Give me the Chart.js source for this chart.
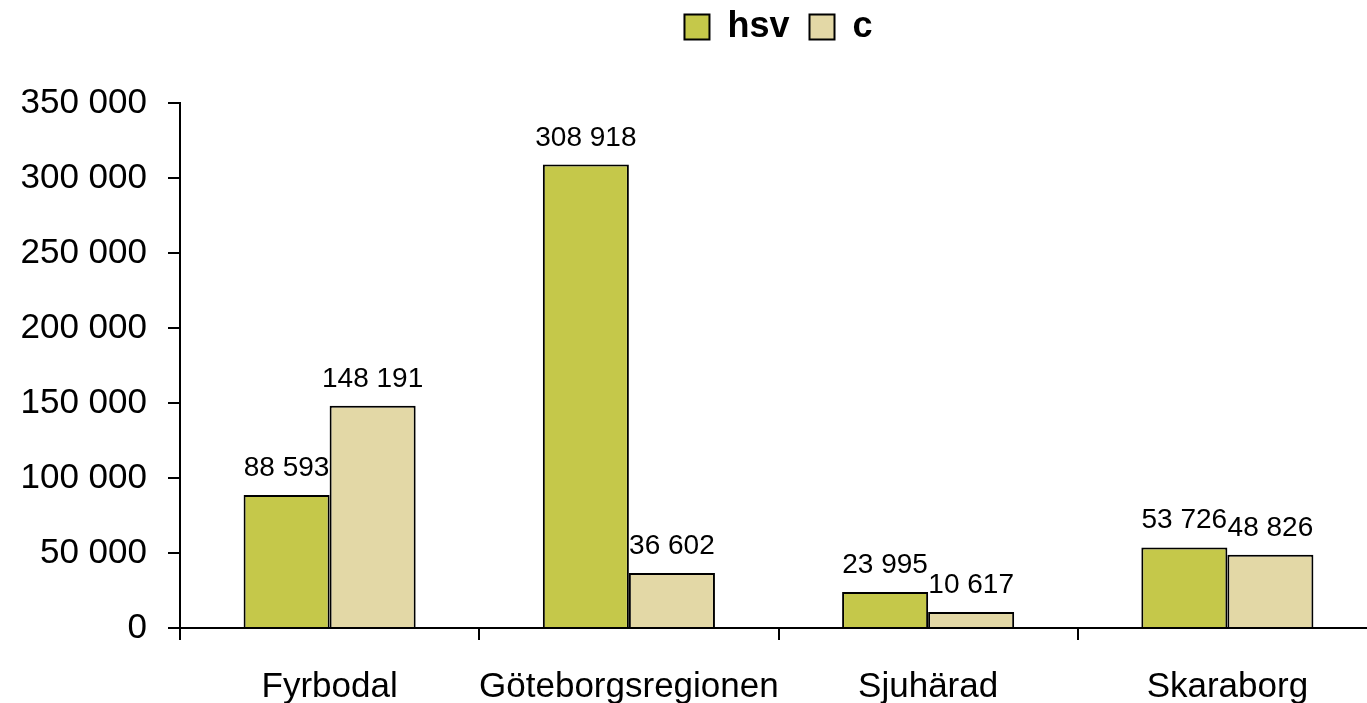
<!DOCTYPE html>
<html>
<head>
<meta charset="utf-8">
<script src="https://cdn.jsdelivr.net/npm/chart.js@4/dist/chart.umd.min.js"></script>
<style>
html,body{margin:0;padding:0;background:#fff;overflow:hidden;}
#wrap{width:1377px;height:703px;position:relative;}
</style>
</head>
<body>
<div id="wrap"><canvas id="c"></canvas></div>
<script>
const categories = ["Fyrbodal", "Göteborgsregionen", "Sjuhärad", "Skaraborg"];
const hsvValues = [88593, 308918, 23995, 53726];
const cValues = [148191, 36602, 10617, 48826];
const seriesNames = ["hsv", "c"];

const FONT = '"Liberation Sans", Arial, sans-serif';
function fmt(v){ return String(v).replace(/\B(?=(\d{3})+(?!\d))/g, ' '); }

const dataLabels = {
  id: 'dataLabels',
  afterDatasetsDraw(chart){
    const ctx = chart.ctx;
    ctx.save();
    ctx.font = '28px ' + FONT;
    ctx.fillStyle = '#000';
    ctx.textAlign = 'center';
    ctx.textBaseline = 'alphabetic';
    chart.data.datasets.forEach((ds, i) => {
      const meta = chart.getDatasetMeta(i);
      meta.data.forEach((el, j) => {
        ctx.fillText(fmt(ds.data[j]), el.x, el.y - 19);
      });
    });
    ctx.restore();
  }
};

const legendFix = {
  id: 'legendFix',
  beforeInit(chart){
    const lg = chart.legend;
    if (!lg) return;
    const orig = lg.fit;
    lg.fit = function(){ orig.call(this); this.height = 103; };
  },
  afterLayout(chart){
    const lg = chart.legend;
    if (lg){ lg.top -= 11; lg.bottom -= 11; }
  }
};

new Chart(document.getElementById('c'), {
  type: 'bar',
  data: {
    labels: categories,
    datasets: [
      {label: seriesNames[0], data: hsvValues, backgroundColor: '#C5C84A', borderColor: '#000', borderWidth: 2, borderSkipped: 'bottom'},
      {label: seriesNames[1], data: cValues, backgroundColor: '#E3D8A6', borderColor: '#000', borderWidth: 2, borderSkipped: 'bottom'}
    ]
  },
  options: {
    responsive: true,
    maintainAspectRatio: false,
    animation: false,
    layout: {padding: {top: 0, left: 0, right: 0, bottom: 0}},
    datasets: {bar: {categoryPercentage: 0.575, barPercentage: 1}},
    plugins: {
      legend: {
        position: 'top',
        fullSize: false,
        labels: {
          color: '#000',
          font: {family: FONT, size: 36, weight: 'bold'},
          boxWidth: 25, boxHeight: 25, padding: 20
        }
      },
      tooltip: {enabled: false}
    },
    scales: {
      x: {
        offset: true,
        afterFit(scale){ scale.height = 75; },
        grid: {offset: true, drawOnChartArea: false, drawTicks: true, tickLength: 12, color: '#000', lineWidth: 2},
        border: {color: '#000', width: 2},
        ticks: {autoSkip: false, color: '#000', font: {family: FONT, size: 35, lineHeight: 1}, padding: 30, maxRotation: 0}
      },
      y: {
        min: 0, max: 350000,
        afterFit(scale){ scale.width = 180; },
        grid: {drawOnChartArea: false, drawTicks: true, tickLength: 12, color: '#000', lineWidth: 2},
        border: {color: '#000', width: 2},
        ticks: {stepSize: 50000, color: '#000', font: {family: FONT, size: 35}, padding: 21, callback: v => fmt(v)}
      }
    }
  },
  plugins: [dataLabels, legendFix]
});
</script>
</body>
</html>
